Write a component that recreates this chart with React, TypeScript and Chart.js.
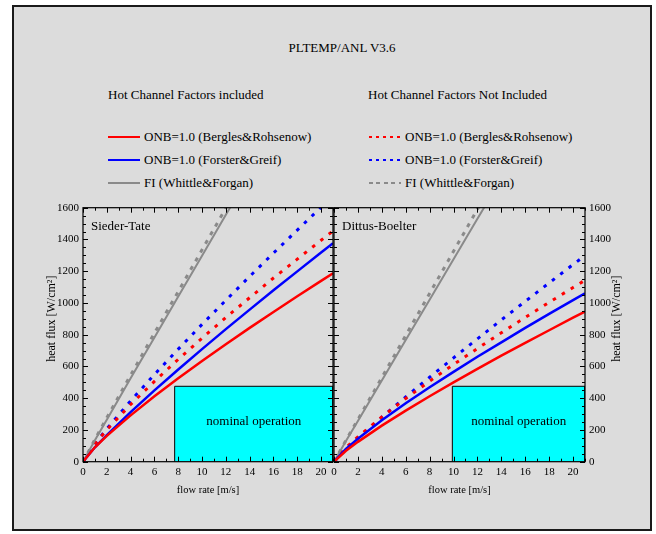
import React, { useEffect, useRef } from "react";
import { Chart, registerables } from "chart.js";

Chart.register(...registerables);

const FONT = "'Liberation Serif', 'Times New Roman', Times, serif";

// ---------- data ----------
const flowMax = 21;
const heatMax = 1600;
const flowTicks = [0, 2, 4, 6, 8, 10, 12, 14, 16, 18, 20];
const heatTicks = [0, 200, 400, 600, 800, 1000, 1200, 1400, 1600];

// flow rate grid [m/s]
const flowRate = [0, 1, 2, 4, 6, 8, 10, 12, 14, 16, 18, 20, 21];
const flowRateFI = [0, 1, 2, 4, 6, 8, 10, 12, 13];

// Sieder-Tate, hot channel factors included
const stBerglesHCF = [0, 91, 163, 292, 412, 525, 634, 740, 843, 943, 1042, 1139, 1187];
const stForsterHCF = [0, 91, 168, 312, 449, 581, 709, 835, 958, 1080, 1199, 1318, 1376];
const stWhittleHCF = [0, 135, 265, 525, 783, 1040, 1297, 1555, 1683];
// Sieder-Tate, hot channel factors not included
const stBerglesNoHCF = [0, 112, 201, 360, 506, 645, 778, 908, 1033, 1157, 1276, 1395, 1454];
const stForsterNoHCF = [0, 112, 207, 383, 549, 709, 865, 1017, 1167, 1314, 1459, 1603, 1675];
const stWhittleNoHCF = [0, 140, 277, 545, 810, 1072, 1335, 1598, 1730];

// Dittus-Boelter, hot channel factors included
const dbBerglesHCF = [0, 69, 125, 227, 322, 412, 500, 585, 668, 749, 828, 907, 946];
const dbForsterHCF = [0, 81, 145, 261, 368, 469, 566, 661, 752, 843, 931, 1018, 1060];
const dbWhittleHCF = [0, 130, 257, 512, 766, 1020, 1275, 1530, 1657];
// Dittus-Boelter, hot channel factors not included
const dbBerglesNoHCF = [0, 88, 157, 282, 398, 507, 612, 713, 812, 909, 1004, 1097, 1143];
const dbForsterNoHCF = [0, 78, 148, 280, 408, 532, 654, 774, 893, 1010, 1126, 1242, 1298];
const dbWhittleNoHCF = [0, 135, 266, 530, 795, 1060, 1325, 1590, 1722];

// nominal operation region
const nominalHeat = 475;
const stNominalFlowStart = 7.7;
const dbNominalFlowStart = 9.9;

const legendLabels = ["ONB=1.0 (Bergles&Rohsenow)", "ONB=1.0 (Forster&Greif)", "FI (Whittle&Forgan)"];
const legendColors = ["#ff0000", "#0000ff", "#8a8a8a"];

// ---------- decoration plugin ----------
const decorPlugin = {
  id: "panelDecor",
  afterDatasetsDraw(chart: any, _args: any, opts: any) {
    const { ctx, chartArea: ca, scales } = chart;
    const xs = scales.x;
    const ys = scales.y;
    ctx.save();
    ctx.strokeStyle = "#000";
    ctx.lineWidth = 1.2;
    ctx.strokeRect(ca.left, ca.top, ca.right - ca.left, ca.bottom - ca.top);
    ctx.lineWidth = 1;
    ctx.beginPath();
    for (let v = 0; v <= flowMax; v += 1) {
      const p = Math.round(xs.getPixelForValue(v)) + 0.5;
      const len = v % 2 === 0 ? 5 : 3;
      ctx.moveTo(p, ca.bottom);
      ctx.lineTo(p, ca.bottom - len);
      ctx.moveTo(p, ca.top);
      ctx.lineTo(p, ca.top + len);
    }
    for (let v = 0; v <= heatMax; v += 50) {
      const p = Math.round(ys.getPixelForValue(v)) + 0.5;
      const len = v % 200 === 0 ? 5 : 3;
      ctx.moveTo(ca.left, p);
      ctx.lineTo(ca.left + len, p);
      ctx.moveTo(ca.right, p);
      ctx.lineTo(ca.right - len, p);
    }
    ctx.stroke();

    ctx.fillStyle = "#000";
    ctx.font = `13px ${FONT}`;
    ctx.textAlign = "left";
    ctx.textBaseline = "middle";
    ctx.fillText(opts.name, ca.left + 8, ca.top + 19);

    const bx = (xs.getPixelForValue(opts.boxStart) + xs.getPixelForValue(flowMax)) / 2;
    const by = (ys.getPixelForValue(0) + ys.getPixelForValue(nominalHeat)) / 2 - 2;
    ctx.textAlign = "center";
    ctx.fillText("nominal operation", bx, by);

    ctx.font = `12px ${FONT}`;
    const cy = (ca.top + ca.bottom) / 2 - 16;
    const tx = opts.side === "left" ? ca.left - 31 : ca.right + 32;
    ctx.translate(tx, cy);
    ctx.rotate(-Math.PI / 2);
    ctx.fillText("heat flux [W/cm\u00B2]", 0, 0);
    ctx.restore();
  },
};

type Series = { x: number[]; y: number[]; color: string; style: "solid" | "dot" | "dash" };

function Panel({ name, side, series, boxStart, left, width }: {
  name: string; side: "left" | "right"; series: Series[]; boxStart: number; left: number; width: number;
}) {
  const ref = useRef<HTMLCanvasElement>(null);
  useEffect(() => {
    const canvas = ref.current!;
    const isLeft = side === "left";
    const datasets: any[] = [
      {
        label: "nominal operation",
        data: [
          { x: boxStart, y: 0 },
          { x: boxStart, y: nominalHeat },
          { x: flowMax, y: nominalHeat },
          { x: flowMax, y: 0 },
        ],
        borderColor: "#000",
        borderWidth: 1,
        backgroundColor: "#00ffff",
        fill: "origin",
        pointRadius: 0,
        order: 10,
        clip: 0,
      },
      ...series.map((s) => ({
        data: s.x.map((x, i) => ({ x, y: s.y[i] })),
        borderColor: s.color,
        borderWidth: s.style === "solid" ? (s.color === legendColors[2] ? 2 : 2.5) : 3,
        borderDash: s.style === "dot" ? [3.5, 7] : s.style === "dash" ? [4, 6] : [],
        borderCapStyle: "butt",
        pointRadius: 0,
        fill: false,
        tension: 0,
        order: 1,
        clip: 0,
      })),
    ];
    const tickFont = { family: FONT, size: 11 };
    const chart = new Chart(canvas, {
      type: "line",
      data: { datasets },
      options: {
        responsive: false,
        animation: false,
        devicePixelRatio: 1,
        layout: {
          padding: isLeft
            ? { left: 0, right: 7, top: 12.7, bottom: 0 }
            : { left: 7, right: 0, top: 12.7, bottom: 0 },
        },
        plugins: {
          legend: { display: false },
          tooltip: { enabled: false },
          panelDecor: { name, side, boxStart },
        } as any,
        scales: {
          x: {
            type: "linear",
            min: 0,
            max: flowMax,
            position: "bottom",
            grid: { display: false, drawTicks: false },
            border: { display: false },
            afterBuildTicks: (s: any) => {
              s.ticks = flowTicks.map((v) => ({ value: v }));
            },
            afterFit: (s: any) => {
              s.height = 43.3;
            },
            ticks: {
              padding: 4,
              color: "#000",
              font: tickFont,
              maxRotation: 0,
              autoSkip: false,
              callback: (v: any) => String(v),
            },
            title: {
              display: true,
              text: "flow rate [m/s]",
              color: "#000",
              font: { family: FONT, size: 10.5 },
              padding: { top: 0, bottom: 8.5 },
            },
          },
          y: {
            type: "linear",
            min: 0,
            max: heatMax,
            position: isLeft ? "left" : "right",
            grid: { display: false, drawTicks: false },
            border: { display: false },
            afterBuildTicks: (s: any) => {
              s.ticks = heatTicks.map((v) => ({ value: v }));
            },
            afterFit: (s: any) => {
              s.width = isLeft ? 63 : 65;
            },
            ticks: { padding: 4, color: "#000", font: tickFont, autoSkip: false, callback: (v: any) => String(v) },
          },
        },
      } as any,
      plugins: [decorPlugin as any],
    });
    return () => chart.destroy();
  }, []);
  return (
    <canvas
      ref={ref}
      width={width}
      height={310}
      style={{ position: "absolute", left, top: 195, width, height: 310 }}
    />
  );
}

function LegendRow({ x, y, color, dotted, label }: { x: number; y: number; color: string; dotted: boolean; label: string }) {
  const isGray = color === legendColors[2];
  const bg = dotted
    ? isGray
      ? `repeating-linear-gradient(to right, ${color} 0 4px, transparent 4px 7.5px)`
      : `repeating-linear-gradient(to right, ${color} 0 3px, transparent 3px 7px)`
    : color;
  return (
    <>
      <div style={{ position: "absolute", left: x, top: y - 1.25, width: 32, height: 2.5, background: bg }} />
      <div style={{ position: "absolute", left: x + 36, top: y - 8, height: 16, lineHeight: "16px", fontSize: 13, whiteSpace: "nowrap" }}>
        {label}
      </div>
    </>
  );
}

export default function App() {
  const st: Series[] = [
    { x: flowRate, y: stBerglesHCF, color: legendColors[0], style: "solid" },
    { x: flowRate, y: stForsterHCF, color: legendColors[1], style: "solid" },
    { x: flowRateFI, y: stWhittleHCF, color: legendColors[2], style: "solid" },
    { x: flowRate, y: stBerglesNoHCF, color: legendColors[0], style: "dot" },
    { x: flowRate, y: stForsterNoHCF, color: legendColors[1], style: "dot" },
    { x: flowRateFI, y: stWhittleNoHCF, color: legendColors[2], style: "dash" },
  ];
  const db: Series[] = [
    { x: flowRate, y: dbBerglesHCF, color: legendColors[0], style: "solid" },
    { x: flowRate, y: dbForsterHCF, color: legendColors[1], style: "solid" },
    { x: flowRateFI, y: dbWhittleHCF, color: legendColors[2], style: "solid" },
    { x: flowRate, y: dbBerglesNoHCF, color: legendColors[0], style: "dot" },
    { x: flowRate, y: dbForsterNoHCF, color: legendColors[1], style: "dot" },
    { x: flowRateFI, y: dbWhittleNoHCF, color: legendColors[2], style: "dash" },
  ];
  const rowsY = [137, 160, 183];
  return (
    <div style={{ position: "absolute", left: 0, top: 0, width: 656, height: 534, fontFamily: FONT, color: "#000" }}>
      <div
        style={{
          position: "absolute",
          left: 12,
          top: 5,
          width: 640,
          height: 526,
          boxSizing: "border-box",
          border: "2px solid #1a1a1a",
          background: "#dcdcdc",
        }}
      />
      <div style={{ position: "absolute", left: 242, width: 200, top: 40, lineHeight: "16px", fontSize: 13, textAlign: "center" }}>
        PLTEMP/ANL V3.6
      </div>
      <div style={{ position: "absolute", left: 108, top: 87, lineHeight: "16px", fontSize: 13, whiteSpace: "nowrap" }}>
        Hot Channel Factors included
      </div>
      <div style={{ position: "absolute", left: 368, top: 87, lineHeight: "16px", fontSize: 13, whiteSpace: "nowrap" }}>
        Hot Channel Factors Not Included
      </div>
      {legendLabels.map((l, i) => (
        <LegendRow key={"a" + i} x={108} y={rowsY[i]} color={legendColors[i]} dotted={false} label={l} />
      ))}
      {legendLabels.map((l, i) => (
        <LegendRow key={"b" + i} x={369} y={rowsY[i]} color={legendColors[i]} dotted={true} label={l} />
      ))}
      <Panel name="Sieder-Tate" side="left" series={st} boxStart={stNominalFlowStart} left={20} width={320} />
      <Panel name="Dittus-Boelter" side="right" series={db} boxStart={dbNominalFlowStart} left={327} width={323} />
    </div>
  );
}
